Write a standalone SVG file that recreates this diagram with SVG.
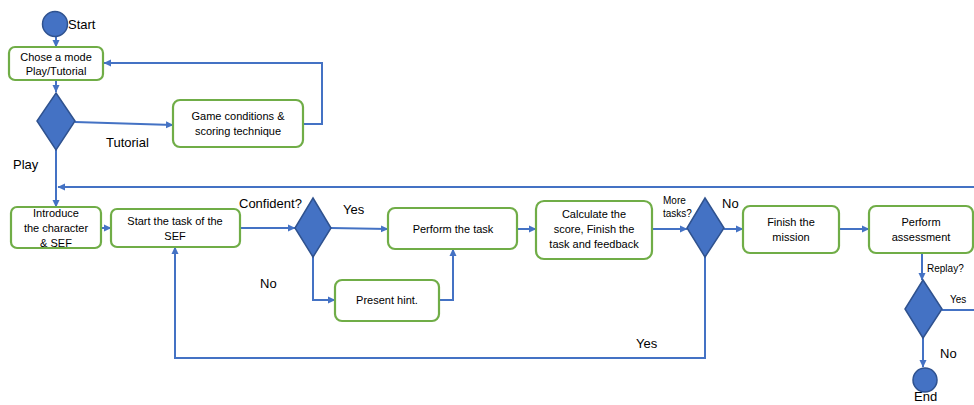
<svg xmlns="http://www.w3.org/2000/svg" width="974" height="405" viewBox="0 0 974 405">
<style>
.box{fill:#fff;stroke:#70AD47;stroke-width:2.2}
.dia{fill:#4472C4;stroke:#2F528F;stroke-width:1.5}
.term{fill:#4472C4;stroke:#2F528F;stroke-width:1.5}
.c{fill:none;stroke:#4472C4;stroke-width:2}
text{font-family:"Liberation Sans",Arial,sans-serif;fill:#000}
.t{font-size:11px;text-anchor:middle}
.l{font-size:13px}
.s{font-size:10px}
</style>
<defs>
<marker id="a" markerWidth="8" markerHeight="8" refX="7" refY="4" orient="auto" markerUnits="userSpaceOnUse">
<path d="M0,0.5 L7.5,4 L0,7.5 z" fill="#4472C4"/>
</marker>
</defs>
<rect width="974" height="405" fill="#fff"/>
<g id="connectors">
<path class="c" d="M56,37 V47" marker-end="url(#a)"/>
<path class="c" d="M56,80 V92" marker-end="url(#a)"/>
<path class="c" d="M75,122 L173,125" marker-end="url(#a)"/>
<path class="c" d="M303,124 H322 V63 H104" marker-end="url(#a)"/>
<path class="c" d="M56,150 V207" marker-end="url(#a)"/>
<path class="c" d="M974,187 H58" marker-end="url(#a)"/>
<path class="c" d="M101,228 H111" marker-end="url(#a)"/>
<path class="c" d="M240,228 H295" marker-end="url(#a)"/>
<path class="c" d="M331,228 L388,229" marker-end="url(#a)"/>
<path class="c" d="M313,257 V300 H335" marker-end="url(#a)"/>
<path class="c" d="M439,300 H453 V249" marker-end="url(#a)"/>
<path class="c" d="M517,229 H536" marker-end="url(#a)"/>
<path class="c" d="M652,229 H687" marker-end="url(#a)"/>
<path class="c" d="M705,257 V358 H175 V247" marker-end="url(#a)"/>
<path class="c" d="M724,229 H743" marker-end="url(#a)"/>
<path class="c" d="M839,229 H869" marker-end="url(#a)"/>
<path class="c" d="M922,253 V280" marker-end="url(#a)"/>
<path class="c" d="M942,310 H974"/>
<path class="c" d="M923,338 V367" marker-end="url(#a)"/>
</g>
<g id="start"><circle class="term" cx="55" cy="24" r="12.5"/><text class="l" x="68" y="29" font-size="14">Start</text></g>
<g id="chose"><rect class="box" x="9" y="47" width="94" height="33" rx="6"/><text class="t" x="56" y="61">Chose a mode</text><text class="t" x="56" y="75">Play/Tutorial</text></g>
<g id="mode"><polygon class="dia" points="56,93 75,121 56,150 37,121"/></g>
<g id="game"><rect class="box" x="173" y="100" width="130" height="47" rx="7"/><text class="t" x="238" y="120">Game conditions &amp;</text><text class="t" x="238" y="135">scoring technique</text></g>
<g id="labels1"><text class="l" x="106" y="147">Tutorial</text><text class="l" x="13" y="169">Play</text></g>
<g id="introduce"><rect class="box" x="11" y="207" width="90" height="41" rx="6"/><text class="t" x="56" y="217">Introduce</text><text class="t" x="56" y="232">the character</text><text class="t" x="56" y="247">&amp; SEF</text></g>
<g id="starttask"><rect class="box" x="111" y="209" width="129" height="38" rx="6"/><text class="t" x="175" y="225">Start the task of the</text><text class="t" x="175" y="240">SEF</text></g>
<g id="confident"><polygon class="dia" points="313,198 331,228 313,257 295,228"/><text class="l" x="239" y="208">Confident?</text><text class="l" x="343" y="214">Yes</text><text class="l" x="260" y="288">No</text></g>
<g id="perform"><rect class="box" x="388" y="208" width="129" height="41" rx="7"/><text class="t" x="453" y="233">Perform the task</text></g>
<g id="hint"><rect class="box" x="335" y="280" width="104" height="41" rx="7"/><text class="t" x="387" y="304">Present hint.</text></g>
<g id="calc"><rect class="box" x="536" y="201" width="116" height="58" rx="8"/><text class="t" x="594" y="218">Calculate the</text><text class="t" x="594" y="233">score, Finish the</text><text class="t" x="594" y="248">task and feedback</text></g>
<g id="more"><polygon class="dia" points="705,198 724,228 705,257 687,228"/><text class="s" x="663" y="204">More</text><text class="s" x="663" y="217">tasks?</text><text class="l" x="722" y="208">No</text><text class="l" x="636" y="348">Yes</text></g>
<g id="finish"><rect class="box" x="743" y="206" width="96" height="47" rx="7"/><text class="t" x="791" y="226">Finish the</text><text class="t" x="791" y="241">mission</text></g>
<g id="assess"><rect class="box" x="869" y="206" width="104" height="47" rx="7"/><text class="t" x="921" y="226">Perform</text><text class="t" x="921" y="241">assessment</text></g>
<g id="replay"><polygon class="dia" points="923,280 942,309 923,338 905,309"/><text class="s" x="927" y="272">Replay?</text><text class="s" x="950" y="303">Yes</text><text class="l" x="940" y="358">No</text></g>
<g id="end"><circle class="term" cx="925" cy="380" r="12"/><text class="l" x="914" y="401">End</text></g>
</svg>
